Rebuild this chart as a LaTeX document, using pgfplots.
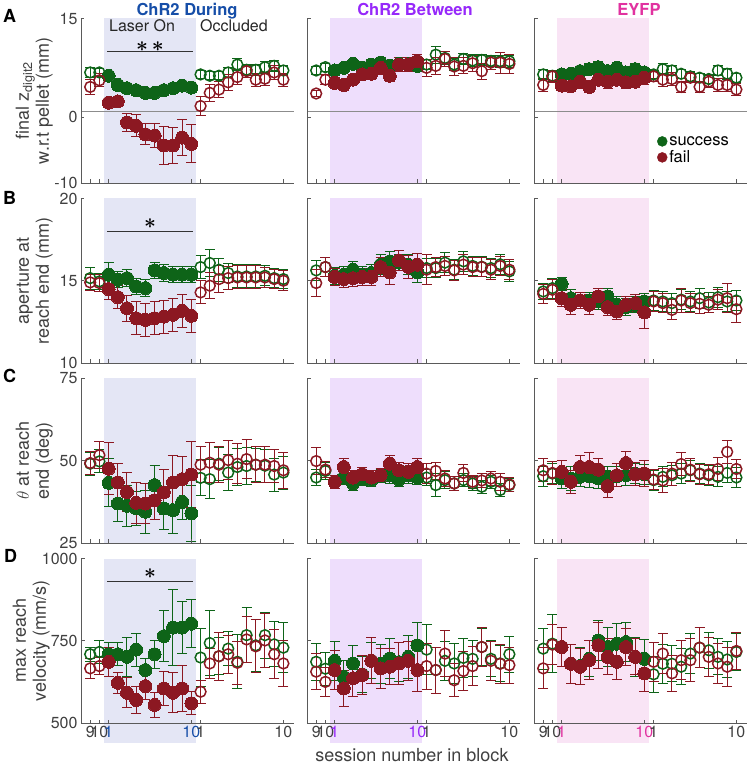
\documentclass[border=0pt]{standalone}
\usepackage{fontspec}
\setmainfont{TeX Gyre Heros}
\usepackage{pgfplots}
\usepackage{pgfplotstable}
\pgfplotsset{compat=1.18}
\definecolor{cgreen}{RGB}{14,100,24}
\definecolor{cred}{RGB}{140,24,34}
\definecolor{shA}{RGB}{228,230,245}
\definecolor{shB}{RGB}{238,222,252}
\definecolor{shC}{RGB}{249,228,245}
\definecolor{tA}{RGB}{22,78,168}
\definecolor{tB}{RGB}{150,40,250}
\definecolor{tC}{RGB}{225,50,160}
\definecolor{axiscol}{RGB}{90,90,90}
\definecolor{labcol}{RGB}{64,64,64}
\DeclareRobustCommand{\bast}{\mbox{\boldmath$\ast$}}

\pgfplotstableread{
x s se f fe
1 6.8 0.7 4.6 1.2
2 6.8 0.6 5.6 1.0
3 6.3 0.4 2.2 0.6
4 4.9 0.3 2.4 0.5
5 4.4 0.3 -0.8 1.4
6 4.1 0.3 -1.3 1.7
7 3.7 0.3 -2.6 1.6
8 3.7 0.3 -2.8 1.8
9 4.1 0.3 -4.3 2.9
10 4.4 0.3 -4.3 2.7
11 4.8 0.3 -3.1 2.7
12 4.5 0.4 -4.05 2.9
13 6.5 0.6 1.7 1.4
14 6.3 0.6 3.7 1.3
15 6.3 0.6 4.2 1.2
16 6.8 0.7 5.3 1.2
17 8.0 0.9 6.1 1.2
18 7.2 0.8 7.0 0.9
19 7.2 0.8 5.7 1.0
20 7.6 0.9 5.85 1.0
21 7.8 0.8 6.8 1.0
22 7.1 0.8 5.7 1.0
}\tAa
\pgfplotstableread{
x s se f fe
1 7.1 0.6 3.6 0.4
2 7.6 0.6 5.7 0.8
3 7.1 0.5 5.2 0.8
4 7.5 0.5 4.9 0.8
5 8.1 0.5 5.7 0.8
6 7.5 0.5 6.5 0.8
7 8.0 0.5 6.6 0.8
8 8.3 0.5 7.5 0.9
9 7.8 0.5 6.3 0.8
10 8.1 0.5 8.0 1.1
11 8.05 0.5 8.0 1.0
12 7.8 0.5 8.5 1.0
13 8.0 0.8 7.5 1.3
14 9.5 1.3 7.8 1.3
15 9.0 1.0 8.85 1.2
16 8.0 0.9 7.7 1.3
17 8.85 0.8 7.8 1.2
18 8.6 0.9 8.2 1.2
19 8.7 0.8 7.0 1.2
20 8.55 0.9 8.3 1.0
21 8.5 0.9 8.3 1.6
22 8.5 0.9 8.1 1.4
}\tAb
\pgfplotstableread{
x s se f fe
1 6.5 0.7 4.9 1.0
2 6.3 0.8 6.2 0.9
3 6.5 0.6 4.8 0.8
4 6.6 0.6 4.7 0.7
5 7.0 0.7 5.4 1.0
6 7.3 0.8 4.6 0.9
7 7.6 0.8 5.7 0.9
8 7.0 0.8 5.4 1.0
9 7.5 0.8 5.7 0.9
10 6.8 0.7 5.3 0.9
11 7.3 0.8 5.4 0.9
12 6.8 0.7 6.0 1.0
13 6.5 0.6 6.2 0.8
14 7.3 0.8 5.7 1.0
15 7.1 0.8 5.8 1.0
16 6.6 0.7 4.6 0.8
17 6.2 0.7 6.0 0.7
18 6.0 0.7 4.6 0.8
19 5.8 0.7 5.4 0.9
20 7.1 0.8 4.9 1.0
21 6.6 0.8 4.9 1.0
22 6.0 0.7 4.2 0.9
}\tAc
\pgfplotstableread{
x s se f fe
1 15.16 0.67 14.9 0.5
2 14.96 0.5 14.86 0.5
3 15.37 0.73 14.49 0.6
4 15.06 0.5 14.0 0.7
5 15.16 0.5 13.33 0.8
6 14.65 0.5 12.72 1.0
7 14.55 0.5 12.62 1.0
8 15.63 0.5 12.72 1.0
9 15.47 0.5 12.82 1.0
10 15.37 0.5 12.93 1.0
11 15.37 0.5 13.17 1.0
12 15.37 0.5 12.87 1.0
13 15.83 0.7 14.29 0.7
14 16.08 0.8 14.7 0.8
15 15.67 0.7 15.1 0.8
16 15.47 0.6 15.16 0.7
17 15.26 0.7 15.2 0.7
18 15.26 0.7 15.2 0.7
19 15.26 0.7 15.2 0.7
20 15.3 0.6 15.2 0.6
21 15.16 0.6 15.1 0.6
22 15.1 0.6 15.0 0.6
}\tBa
\pgfplotstableread{
x s se f fe
1 15.63 0.6 14.86 0.8
2 15.83 0.6 15.83 0.6
3 15.3 0.5 15.23 0.5
4 15.37 0.5 15.1 0.5
5 15.67 0.5 15.16 0.5
6 15.37 0.5 15.23 0.5
7 15.47 0.5 15.23 0.5
8 15.98 0.6 15.83 0.6
9 16.18 0.6 15.5 0.7
10 16.1 0.5 16.24 0.6
11 15.98 0.6 15.85 0.7
12 15.5 0.6 15.98 0.7
13 15.77 0.6 15.67 0.9
14 15.77 0.6 15.83 0.6
15 16.1 0.6 15.9 0.6
16 15.67 0.6 15.63 0.6
17 16.18 0.6 15.98 0.6
18 15.9 0.6 15.83 0.6
19 15.85 0.6 15.83 0.6
20 15.77 0.6 15.67 0.6
21 16.0 0.6 15.9 0.6
22 15.57 0.6 15.67 0.6
}\tBb
\pgfplotstableread{
x s se f fe
1 14.35 0.5 14.2 0.6
2 14.55 0.6 14.45 0.6
3 14.82 0.4 13.94 0.5
4 13.94 0.5 13.54 0.6
5 13.8 0.5 13.8 0.5
6 13.8 0.5 13.54 0.6
7 13.74 0.5 14.05 0.5
8 14.05 0.5 13.4 0.5
9 13.54 0.5 13.13 0.5
10 13.4 0.5 13.54 0.5
11 13.54 0.5 13.64 0.5
12 13.74 0.5 13.07 1.0
13 13.8 0.6 13.74 0.6
14 13.74 0.6 13.64 0.6
15 13.64 0.6 13.23 0.6
16 13.85 0.6 13.8 0.7
17 13.74 0.6 13.64 0.6
18 13.94 0.6 13.6 0.6
19 13.68 0.6 13.54 0.5
20 14.0 0.6 13.85 0.6
21 13.74 0.6 13.94 0.9
22 13.8 0.6 13.27 0.8
}\tBc
\pgfplotstableread{
x s se f fe
1 49.1 3.5 49.3 3.5
2 49.8 3.5 51.7 4.0
3 43.3 7.3 47.6 7.8
4 37.0 5.5 43.4 5.8
5 36.3 6.3 40.5 6.0
6 35.5 5.3 37.2 6.3
7 34.5 6.5 37.0 6.0
8 42.6 6.0 38.0 6.0
9 35.5 6.3 40.4 6.8
10 35.0 7.0 43.4 8.3
11 37.5 5.5 44.4 6.8
12 34.0 8.6 45.8 10
13 44.8 5.5 48.8 5.5
14 44.4 6.0 49.4 6.0
15 49.1 5.0 48.8 5.5
16 46.4 5.5 50.2 6.0
17 48.1 5.5 49.1 6.0
18 48.4 5.5 50.5 6.0
19 48.8 5.0 48.8 5.5
20 48.5 5.0 48.8 5.5
21 45.8 5.0 48.4 5.0
22 46.4 5.0 47.1 5.5
}\tCa
\pgfplotstableread{
x s se f fe
1 44.9 2.5 49.9 4
2 46.9 2.5 47.3 2.5
3 43.6 2 43.6 2
4 44.9 2 48.1 2.5
5 43.1 2 44.9 2
6 44.6 2 45.9 2
7 44.1 2 44.9 2
8 45.3 2 45.6 2
9 45.6 2.5 49.1 2.5
10 44.3 2 47.1 2.5
11 45.6 2.5 46.6 2.5
12 44.9 2 48.1 2.5
13 44.9 2.5 46.1 3
14 42.6 3.5 46.9 2.5
15 44.1 2.5 44.6 2.5
16 43.1 2 43.1 2
17 44.1 2 46.3 2.5
18 43.1 2 43.6 2
19 42.1 2 44.0 2
20 43.6 2 44.6 2
21 41.1 2 43.6 2.5
22 42.6 2 42.8 2
}\tCb
\pgfplotstableread{
x s se f fe
1 45.3 3 47.1 3.5
2 46.1 3 46.3 3.5
3 44.6 3 46.6 3.5
4 44.6 3.5 43.6 3.5
5 45.1 3 48.1 3.5
6 45.3 3.5 48.1 4.5
7 44.6 3 47.3 3.5
8 45.1 3 42.3 3.5
9 45.3 3 45.6 3.5
10 45.6 3 49.3 3.5
11 46.1 3 45.9 3.5
12 45.9 3 46.1 4
13 44.1 3 44.3 3
14 45.1 3 44.0 3.5
15 45.6 3 46.1 3.5
16 46.1 3 49.0 3.5
17 47.1 3 47.3 3.5
18 46.1 3 45.9 3
19 45.6 3 45.9 3
20 45.1 3 47.5 3.5
21 46.3 3 52.7 3.5
22 44.9 3 47.5 3
}\tCc
\pgfplotstableread{
x s se f fe
1 709 22 666 30
2 716 35 673 25
3 709 36 686 45
4 709 35 622 32
5 701 60 592 45
6 723 50 570 40
7 661 35 612 40
8 709 42 555 37
9 764 78 605 52
10 790 115 592 60
11 790 78 605 70
12 802 74 560 35
13 699 88 595 35
14 743 100 681 45
15 703 57 703 73
16 726 52 709 58
17 686 82 683 65
18 767 83 754 71
19 736 79 733 81
20 767 70 751 82
21 739 68 709 75
22 729 76 681 70
}\tDa
\pgfplotstableread{
x s se f fe
1 686 57 656 55
2 665 50 625 45
3 689 60 661 60
4 640 50 605 55
5 681 55 636 55
6 648 55 646 60
7 689 55 689 70
8 680 60 666 60
9 696 60 671 55
10 685 60 681 65
11 701 65 689 60
12 736 70 661 65
13 723 75 673 70
14 661 70 661 70
15 689 60 711 70
16 681 60 630 50
17 698 60 658 60
18 695 55 673 60
19 731 55 731 60
20 695 55 689 60
21 681 55 680 60
22 709 55 676 55
}\tDb
\pgfplotstableread{
x s se f fe
1 726 62 666 62
2 741 88 738 60
3 731 60 731 60
4 680 60 680 60
5 673 55 671 55
6 695 55 691 60
7 751 60 736 70
8 731 60 701 55
9 741 60 686 55
10 746 60 731 55
11 701 60 701 55
12 695 60 651 55
13 648 55 686 60
14 680 60 711 60
15 680 55 651 55
16 671 55 691 60
17 711 60 691 65
18 729 60 729 60
19 721 55 701 60
20 701 55 681 60
21 693 55 671 60
22 716 55 719 55
}\tDc

\pgfplotsset{
  panel/.style={
    scale only axis, width=212.5pt, height=164.5pt,
    xmin=0, xmax=23.1,
    axis x line*=bottom, axis y line*=left,
    axis line style={-, axiscol, line width=0.9pt},
    xtick={1,2,3,12,13,22}, xticklabels={},
    tick align=inside, major tick length=3.5pt,
    tick style={axiscol, line width=0.8pt},
    every tick label/.append style={font=\fontsize{16}{16}\selectfont, text=labcol},
    ylabel style={align=center, font=\fontsize{18}{20}\selectfont, text=labcol,
      at={(axis description cs:-0.132,0.5)}, anchor=south, inner sep=0pt},
    clip=false, axis on top,
  },
  openmk/.style={forget plot, only marks, color=#1, mark=o, mark size=5.4pt,
    mark options={line width=1.5pt}},
  fillmk/.style={forget plot, only marks, color=#1, mark=*, mark size=6.5pt,
    mark options={line width=0pt, fill=#1}},
}
\newcommand{\drawpanel}[1]{%
  \addplot[openmk=cgreen, restrict x to domain=1:2, error bars/.cd, y dir=both, y explicit, error bar style={line width=1pt}, error mark options={rotate=90, mark size=5pt, line width=1pt}] table[x=x,y=s,y error=se]{#1};
  \addplot[openmk=cgreen, restrict x to domain=13:22, error bars/.cd, y dir=both, y explicit, error bar style={line width=1pt}, error mark options={rotate=90, mark size=5pt, line width=1pt}] table[x=x,y=s,y error=se]{#1};
  \addplot[fillmk=cgreen, restrict x to domain=3:12, error bars/.cd, y dir=both, y explicit, error bar style={line width=1pt}, error mark options={rotate=90, mark size=5pt, line width=1pt}] table[x=x,y=s,y error=se]{#1};
  \addplot[openmk=cred, restrict x to domain=1:2, error bars/.cd, y dir=both, y explicit, error bar style={line width=1pt}, error mark options={rotate=90, mark size=5pt, line width=1pt}] table[x=x,y=f,y error=fe]{#1};
  \addplot[openmk=cred, restrict x to domain=13:22, error bars/.cd, y dir=both, y explicit, error bar style={line width=1pt}, error mark options={rotate=90, mark size=5pt, line width=1pt}] table[x=x,y=f,y error=fe]{#1};
  \addplot[fillmk=cred, restrict x to domain=3:12, error bars/.cd, y dir=both, y explicit, error bar style={line width=1pt}, error mark options={rotate=90, mark size=5pt, line width=1pt}] table[x=x,y=f,y error=fe]{#1};
}

\begin{document}
\begin{tikzpicture}
\useasboundingbox (0pt,0pt) rectangle (751pt,766pt);
% ---------- Row A ----------
\begin{axis}[panel, at={(81pt,583pt)}, anchor=south west, ymin=-10, ymax=15,
  ytick={-10,0,15}, yticklabels={-10,0,15},
  ylabel={final z\textsubscript{digit2}\\w.r.t pellet (mm)}]
  \fill[shA] (axis cs:2.5,-10) rectangle (axis cs:12.5,15);
  \draw[black!45, line width=1pt] (axis cs:0,0.8) -- (axis cs:23.1,0.8);
  \draw[black!80, line width=0.8pt] (axis cs:2.85,10) -- (axis cs:12.2,10);
  \node[inner sep=0pt, font=\fontsize{22}{22}\selectfont, text=black] at (axis cs:7.5,10.7) {\bast\,\bast};
  \drawpanel{\tAa}
\end{axis}
\begin{axis}[panel, at={(307pt,583pt)}, anchor=south west, ymin=-10, ymax=15,
  ytick={-10,0,15}, yticklabels={}]
  \fill[shB] (axis cs:2.5,-10) rectangle (axis cs:12.5,15);
  \draw[black!45, line width=1pt] (axis cs:0,0.8) -- (axis cs:23.1,0.8);
  \drawpanel{\tAb}
\end{axis}
\begin{axis}[panel, at={(534pt,583pt)}, anchor=south west, ymin=-10, ymax=15,
  ytick={-10,0,15}, yticklabels={},
  legend style={at={(rel axis cs:0.565,0.31)}, anchor=north west, draw=none, fill=none,
    font=\fontsize{16.5}{16.5}\selectfont},
  legend cell align=left]
  \fill[shC] (axis cs:2.5,-10) rectangle (axis cs:12.5,15);
  \draw[black!45, line width=1pt] (axis cs:0,0.8) -- (axis cs:23.1,0.8);
  \drawpanel{\tAc}
  \addlegendimage{only marks, mark=*, mark size=5pt, cgreen}
  \addlegendentry{success}
  \addlegendimage{only marks, mark=*, mark size=5pt, cred}
  \addlegendentry{fail}
\end{axis}
% ---------- Row B ----------
\begin{axis}[panel, at={(81pt,403pt)}, anchor=south west, ymin=10, ymax=20,
  ytick={10,15,20}, yticklabels={10,15,20},
  ylabel={aperture at\\reach end (mm)}]
  \fill[shA] (axis cs:2.5,10) rectangle (axis cs:12.5,20);
  \draw[black!80, line width=0.8pt] (axis cs:2.85,18) -- (axis cs:12.2,18);
  \node[inner sep=0pt, font=\fontsize{22}{22}\selectfont, text=black] at (axis cs:7.5,18.5) {\bast};
  \drawpanel{\tBa}
\end{axis}
\begin{axis}[panel, at={(307pt,403pt)}, anchor=south west, ymin=10, ymax=20,
  ytick={10,15,20}, yticklabels={}]
  \fill[shB] (axis cs:2.5,10) rectangle (axis cs:12.5,20);
  \drawpanel{\tBb}
\end{axis}
\begin{axis}[panel, at={(534pt,403pt)}, anchor=south west, ymin=10, ymax=20,
  ytick={10,15,20}, yticklabels={}]
  \fill[shC] (axis cs:2.5,10) rectangle (axis cs:12.5,20);
  \drawpanel{\tBc}
\end{axis}
% ---------- Row C ----------
\begin{axis}[panel, at={(81pt,223pt)}, anchor=south west, ymin=25, ymax=75,
  ytick={25,50,75}, yticklabels={25,50,75},
  ylabel={$\theta$ at reach\\end (deg)}]
  \fill[shA] (axis cs:2.5,25) rectangle (axis cs:12.5,75);
  \drawpanel{\tCa}
\end{axis}
\begin{axis}[panel, at={(307pt,223pt)}, anchor=south west, ymin=25, ymax=75,
  ytick={25,50,75}, yticklabels={}]
  \fill[shB] (axis cs:2.5,25) rectangle (axis cs:12.5,75);
  \drawpanel{\tCb}
\end{axis}
\begin{axis}[panel, at={(534pt,223pt)}, anchor=south west, ymin=25, ymax=75,
  ytick={25,50,75}, yticklabels={}]
  \fill[shC] (axis cs:2.5,25) rectangle (axis cs:12.5,75);
  \drawpanel{\tCc}
\end{axis}
% ---------- Row D ----------
\begin{axis}[panel, at={(81pt,43pt)}, anchor=south west, ymin=500, ymax=1000,
  ytick={500,750,1000}, yticklabels={500,750,1000},
  xticklabels={9,10,\textcolor{tA}{1},\textcolor{tA}{10},1,10},
  ylabel={max reach\\velocity (mm/s)},
  ylabel style={at={(axis description cs:-0.146,0.5)}}]
  \fill[shA] (axis cs:2.5,439) rectangle (axis cs:12.5,1000);
  \draw[black!80, line width=0.8pt] (axis cs:2.85,930) -- (axis cs:12.2,930);
  \node[inner sep=0pt, font=\fontsize{22}{22}\selectfont, text=black] at (axis cs:7.5,955) {\bast};
  \drawpanel{\tDa}
\end{axis}
\begin{axis}[panel, at={(307pt,43pt)}, anchor=south west, ymin=500, ymax=1000,
  ytick={500,750,1000}, yticklabels={},
  xticklabels={9,10,\textcolor{tB}{1},\textcolor{tB}{10},1,10}]
  \fill[shB] (axis cs:2.5,439) rectangle (axis cs:12.5,1000);
  \drawpanel{\tDb}
\end{axis}
\begin{axis}[panel, at={(534pt,43pt)}, anchor=south west, ymin=500, ymax=1000,
  ytick={500,750,1000}, yticklabels={},
  xticklabels={9,10,\textcolor{tC}{1},\textcolor{tC}{10},1,10}]
  \fill[shC] (axis cs:2.5,439) rectangle (axis cs:12.5,1000);
  \drawpanel{\tDc}
\end{axis}
% ---------- annotations ----------
\node[anchor=base, font=\bfseries\fontsize{16.5}{16.5}\selectfont, text=tA] at (187pt,750pt) {ChR2 During};
\node[anchor=base, font=\bfseries\fontsize{16.5}{16.5}\selectfont, text=tB] at (415pt,750pt) {ChR2 Between};
\node[anchor=base, font=\bfseries\fontsize{16.5}{16.5}\selectfont, text=tC] at (639pt,750pt) {EYFP};
\node[anchor=base west, inner sep=0pt, font=\bfseries\fontsize{18}{18}\selectfont] at (3pt,743pt) {A};
\node[anchor=base west, inner sep=0pt, font=\bfseries\fontsize{18}{18}\selectfont] at (3pt,561pt) {B};
\node[anchor=base west, inner sep=0pt, font=\bfseries\fontsize{18}{18}\selectfont] at (3pt,383pt) {C};
\node[anchor=base west, inner sep=0pt, font=\bfseries\fontsize{18}{18}\selectfont] at (4pt,203pt) {D};
\node[anchor=base west, inner sep=0pt, font=\fontsize{16}{16}\selectfont, text=black!85] at (109pt,734pt) {Laser On};
\node[anchor=base west, inner sep=0pt, font=\fontsize{16}{16}\selectfont, text=black!85] at (200pt,734pt) {Occluded};
\node[anchor=base, inner sep=0pt, font=\fontsize{18}{18}\selectfont, text=labcol] at (412pt,5pt) {session number in block};
\end{tikzpicture}
\end{document}
